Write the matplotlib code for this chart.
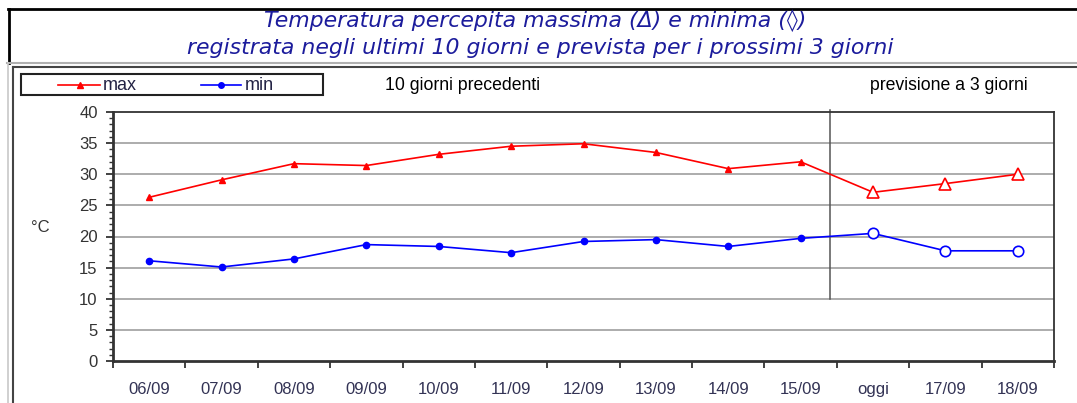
import matplotlib
matplotlib.use("Agg")
import matplotlib.pyplot as plt
from matplotlib.lines import Line2D
from matplotlib.patches import Rectangle

giorni = ["06/09", "07/09", "08/09", "09/09", "10/09", "11/09", "12/09",
          "13/09", "14/09", "15/09", "oggi", "17/09", "18/09"]
tmax = [26.3, 29.1, 31.7, 31.4, 33.2, 34.5, 34.9, 33.5, 30.9, 32.0, 27.1, 28.5, 30.0]
tmin = [16.1, 15.1, 16.4, 18.7, 18.4, 17.4, 19.2, 19.5, 18.4, 19.7, 20.5, 17.7, 17.7]
n_prev = 10  # giorni osservati, il resto e' previsione

W, H = 1077, 403
plt.rcParams['font.family'] = ['Liberation Sans', 'DejaVu Sans']
fig = plt.figure(figsize=(W / 100, H / 100), dpi=100)

def fx(px):
    return px / W

def fy(py):
    return 1 - py / H

ax = fig.add_axes([fx(113), fy(361), fx(1054) - fx(113), fy(112) - fy(361)])

x = list(range(len(giorni)))
red = "#ff0000"
blue = "#0000ff"

ax.plot(x, tmax, color=red, lw=1.2, zorder=3)
ax.plot(x, tmin, color=blue, lw=1.2, zorder=3)
ax.plot(x[:n_prev], tmax[:n_prev], ls="none", marker="^", ms=5, color=red, zorder=4)
ax.plot(x[:n_prev], tmin[:n_prev], ls="none", marker="o", ms=4.5, color=blue, zorder=4)
ax.plot(x[n_prev:], tmax[n_prev:], ls="none", marker="^", ms=9, mfc="white", mec=red, mew=1.2, zorder=4)
ax.plot(x[n_prev:], tmin[n_prev:], ls="none", marker="o", ms=7.5, mfc="white", mec=blue, mew=1.2, zorder=4)

# separazione tra dati osservati e previsione
ax.plot([n_prev - 0.59, n_prev - 0.59], [10, 40.4], color="#555555", lw=1.1, clip_on=False, zorder=2)

ax.set_xlim(-0.5, len(giorni) - 0.5)
ax.set_ylim(0, 40)
ax.set_yticks(range(0, 41, 5))
ax.set_yticks(range(0, 41, 1), minor=True)
ax.set_xticks(x)
ax.set_xticklabels(giorni)
ax.set_xticks([i - 0.5 for i in range(len(giorni) + 1)], minor=True)
ax.tick_params(axis="x", which="major", length=0, pad=15, labelsize=12, labelcolor="#333355")
ax.tick_params(axis="x", which="minor", length=5, width=1.3, direction="out", color="#333333")
ax.tick_params(axis="y", which="major", length=5, width=1.3, pad=6, labelsize=12, labelcolor="#333333", color="#333333")
ax.tick_params(axis="y", which="minor", length=3, width=1, color="#333333")

for v in range(5, 40, 5):
    ax.axhline(v, color="#a6a6a6", lw=1.3, zorder=1)

for s in ax.spines.values():
    s.set_color("#333333")
    s.set_linewidth(1.3)
ax.spines["left"].set_linewidth(2)
ax.spines["bottom"].set_linewidth(2)

fig.text(fx(40), fy(228), "°C", fontsize=12, color="#333333", ha="center", va="center")

# titolo
tcol = "#1c1c9c"
fig.text(fx(535), fy(21), "Temperatura percepita massima (\u0394) e minima (\u25ca)",
         family="DejaVu Sans", style="italic", fontsize=15.8, color=tcol, ha="center", va="center")
fig.text(fx(540), fy(48), "registrata negli ultimi 10 giorni e prevista per i prossimi 3 giorni",
         family="DejaVu Sans", style="italic", fontsize=15.8, color=tcol, ha="center", va="center")

# cornici
fig.add_artist(Line2D([fx(8), fx(1077)], [fy(9), fy(9)], color="black", lw=2))
fig.add_artist(Line2D([fx(8.5), fx(8.5)], [fy(9), fy(63)], color="black", lw=2))
fig.add_artist(Line2D([fx(7), fx(1077)], [fy(63), fy(63)], color="#b0b0b0", lw=1.5))
fig.add_artist(Line2D([fx(8), fx(8)], [fy(63), fy(403)], color="#c8c8c8", lw=1.2))
fig.add_artist(Line2D([fx(12.5), fx(1077)], [fy(66.5), fy(66.5)], color="#444444", lw=1.5))
fig.add_artist(Line2D([fx(12.5), fx(12.5)], [fy(66.5), fy(403)], color="#444444", lw=1.5))

# legenda
fig.add_artist(Rectangle((fx(21), fy(95)), fx(323) - fx(21), fy(74) - fy(95),
                         fill=False, edgecolor="#222222", lw=1.5, transform=fig.transFigure))
fig.add_artist(Line2D([fx(58), fx(80), fx(100)], [fy(85)] * 3, color=red, lw=1.2,
                      marker="^", ms=5, markevery=[1]))
fig.text(fx(103), fy(86), "max", fontsize=13, color="#222244", va="center")
fig.add_artist(Line2D([fx(201), fx(221), fx(241)], [fy(85)] * 3, color=blue, lw=1.2,
                      marker="o", ms=4, markevery=[1]))
fig.text(fx(245), fy(86), "min", fontsize=13, color="#222244", va="center")

fig.text(fx(385), fy(85), "10 giorni precedenti", fontsize=12.7, color="black", va="center")
fig.text(fx(870), fy(85), "previsione a 3 giorni", fontsize=12.7, color="black", va="center")

fig.savefig("out.png", dpi=100)
